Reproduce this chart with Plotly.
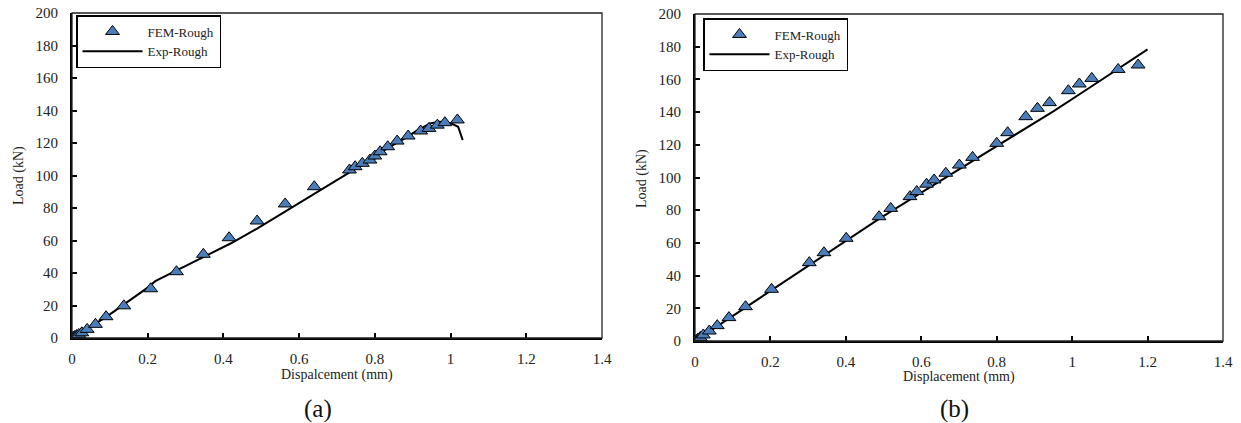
import plotly.graph_objects as go

# ---------------- Data: panel (a) ----------------
fem_a_x = [0.0, 0.003, 0.007, 0.012, 0.018, 0.026, 0.040, 0.062, 0.090, 0.137, 0.208,
           0.276, 0.347, 0.415, 0.489, 0.563, 0.640, 0.733, 0.748, 0.767, 0.787,
           0.800, 0.814, 0.834, 0.859, 0.888, 0.921, 0.943, 0.965, 0.985, 1.018]
fem_a_y = [0.0, 0.4, 0.9, 1.5, 2.2, 3.2, 5.3, 8.4, 13.1, 19.8, 30.3,
           40.8, 51.5, 61.7, 72.0, 82.5, 93.1, 103.4, 105.4, 107.5, 109.5,
           112.0, 114.6, 117.7, 121.2, 124.3, 127.4, 129.0, 131.0, 132.5, 134.2]

exp_a_x = [0.0, 0.02, 0.05, 0.10, 0.15, 0.20, 0.22, 0.28, 0.35, 0.42, 0.49, 0.56,
           0.64, 0.708, 0.73, 0.76, 0.79, 0.805, 0.795, 0.81, 0.82, 0.85, 0.88,
           0.91, 0.946, 0.97, 0.99, 1.005, 1.02, 1.026, 1.032]
exp_a_y = [0.0, 2.6, 7.0, 14.5, 22.5, 31.0, 35.0, 42.0, 50.0, 58.3, 67.5, 77.5,
           89.0, 98.3, 101.5, 105.5, 109.5, 111.0, 110.0, 113.5, 115.0, 119.0, 123.0,
           127.5, 132.1, 133.0, 132.7, 131.7, 130.0, 126.5, 121.8]

# ---------------- Data: panel (b) ----------------
fem_b_x = [0.0, 0.004, 0.008, 0.014, 0.022, 0.038, 0.059, 0.090, 0.134, 0.203,
           0.303, 0.342, 0.401, 0.488, 0.519, 0.570, 0.588, 0.614, 0.634, 0.665,
           0.701, 0.736, 0.800, 0.829, 0.877, 0.908, 0.940, 0.990, 1.019, 1.052,
           1.122, 1.175]
fem_b_y = [0.0, 0.5, 1.2, 2.2, 3.7, 6.1, 9.4, 14.3, 21.0, 31.6,
           47.9, 54.0, 62.8, 76.0, 81.1, 88.3, 91.4, 95.9, 98.5, 102.6,
           107.6, 112.3, 120.9, 127.4, 137.2, 142.3, 145.8, 153.1, 157.2, 160.6,
           166.1, 168.8]

exp_b_x = [0.0, 0.1, 0.2, 0.3, 0.4, 0.49, 0.6, 0.7, 0.83, 0.95, 1.05, 1.2]
exp_b_y = [0.0, 15.3, 30.8, 46.2, 61.5, 75.0, 90.8, 105.0, 123.0, 140.5, 155.5, 178.4]

x_ticks = [0, 0.2, 0.4, 0.6, 0.8, 1.0, 1.2, 1.4]
x_tick_text = ["0", "0.2", "0.4", "0.6", "0.8", "1", "1.2", "1.4"]
y_ticks = [0, 20, 40, 60, 80, 100, 120, 140, 160, 180, 200]

FONT = "Liberation Serif, Times New Roman, serif"
MARKER_FILL = "#4a7ebb"
W, H = 1241, 423

fig = go.Figure()

fig.add_trace(go.Scatter(x=exp_a_x, y=exp_a_y, mode="lines", name="Exp-Rough",
                         line=dict(color="black", width=2), xaxis="x", yaxis="y",
                         legend="legend", legendrank=2))
fig.add_trace(go.Scatter(x=fem_a_x, y=fem_a_y, mode="markers", name="FEM-Rough",
                         marker=dict(symbol="triangle-up", size=12, color=MARKER_FILL,
                                     line=dict(color="black", width=1)),
                         xaxis="x", yaxis="y", legend="legend", legendrank=1))
fig.add_trace(go.Scatter(x=exp_b_x, y=exp_b_y, mode="lines", name="Exp-Rough",
                         line=dict(color="black", width=2), xaxis="x2", yaxis="y2",
                         legend="legend2", legendrank=2))
fig.add_trace(go.Scatter(x=fem_b_x, y=fem_b_y, mode="markers", name="FEM-Rough",
                         marker=dict(symbol="triangle-up", size=12, color=MARKER_FILL,
                                     line=dict(color="black", width=1)),
                         xaxis="x2", yaxis="y2", legend="legend2", legendrank=1))

def px_x(p):
    return p / W

def px_y(p):
    return 1 - p / H

# plot areas in screen pixels
A = dict(l=72, r=602, t=13, b=338)
B = dict(l=695, r=1223, t=14, b=341)

def xaxis_cfg(dom, anchor):
    return dict(domain=[px_x(dom["l"]), px_x(dom["r"])], anchor=anchor,
                range=[0, 1.4], tickvals=x_ticks, ticktext=x_tick_text,
                ticks="inside", ticklen=5, tickwidth=1.5, tickcolor="black",
                showline=True, linewidth=2, linecolor="black", showgrid=False,
                zeroline=False, ticklabelstandoff=6, automargin=False,
                ticklabeloverflow="allow",
                tickfont=dict(family=FONT, size=15, color="#222"))

def yaxis_cfg(dom, anchor):
    return dict(domain=[px_y(dom["b"]), px_y(dom["t"])], anchor=anchor,
                range=[0, 200], tickvals=y_ticks,
                ticks="inside", ticklen=5, tickwidth=1.5, tickcolor="black",
                showline=True, linewidth=2, linecolor="black", showgrid=False,
                zeroline=False, ticklabelstandoff=9, automargin=False,
                ticklabeloverflow="allow",
                tickfont=dict(family=FONT, size=15, color="#222"))

legend_common = dict(bgcolor="white", bordercolor="black", borderwidth=1.5,
                     font=dict(family=FONT, size=13, color="#222"),
                     xanchor="left", yanchor="top", itemwidth=60,
                     tracegroupgap=0, traceorder="normal")

fig.update_layout(
    template="none",
    width=W, height=H,
    margin=dict(l=0, r=0, t=0, b=0, pad=0),
    paper_bgcolor="white", plot_bgcolor="white",
    showlegend=True,
    xaxis=xaxis_cfg(A, "y"), yaxis=yaxis_cfg(A, "x"),
    xaxis2=xaxis_cfg(B, "y2"), yaxis2=yaxis_cfg(B, "x2"),
    legend=dict(x=px_x(76), y=px_y(15), **legend_common),
    legend2=dict(x=px_x(703), y=px_y(18), **legend_common),
    shapes=[
        dict(type="rect", xref="x domain", yref="y domain", x0=0, x1=1, y0=0, y1=1,
             line=dict(color="#222", width=1.3), layer="above"),
        dict(type="rect", xref="x2 domain", yref="y2 domain", x0=0, x1=1, y0=0, y1=1,
             line=dict(color="#222", width=1.3), layer="above"),
    ],
)

annos = [
    dict(text="Dispalcement (mm)", x=px_x((A["l"] + A["r"]) / 2), y=px_y(375)),
    dict(text="Displacement (mm)", x=px_x((B["l"] + B["r"]) / 2), y=px_y(377)),
]
for a in annos:
    fig.add_annotation(xref="paper", yref="paper", x=a["x"], y=a["y"], text=a["text"],
                       showarrow=False, xanchor="center", yanchor="middle",
                       font=dict(family=FONT, size=14, color="#222"))

for txt, xc, yc in [("Load (kN)", 19, 176), ("Load (kN)", 642, 179)]:
    fig.add_annotation(xref="paper", yref="paper", x=px_x(xc), y=px_y(yc), text=txt,
                       textangle=-90, showarrow=False, xanchor="center", yanchor="middle",
                       font=dict(family=FONT, size=14, color="#222"))

for txt, xc in [("(a)", 318), ("(b)", 954)]:
    fig.add_annotation(xref="paper", yref="paper", x=px_x(xc), y=px_y(409), text=txt,
                       showarrow=False, xanchor="center", yanchor="middle",
                       font=dict(family=FONT, size=25, color="#111"))

fig.write_html(
    "out.html",
    config={"displayModeBar": False},
    post_script="document.body.style.margin='0px';document.body.style.overflow='hidden';",
)
